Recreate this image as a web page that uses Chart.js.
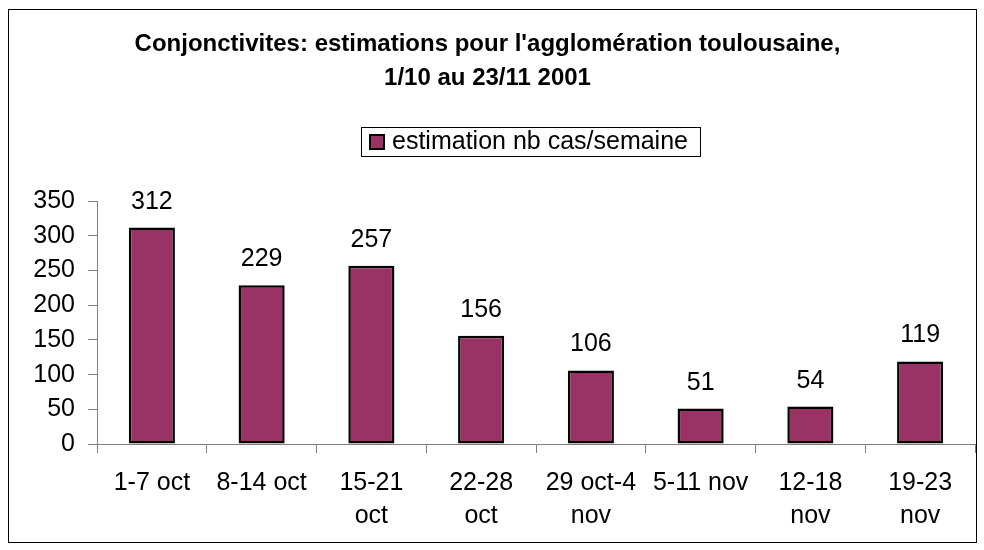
<!DOCTYPE html>
<html lang="fr">
<head>
    <meta charset="UTF-8">
    <title>Conjonctivites - agglomération toulousaine</title>
    <script src="https://cdn.jsdelivr.net/npm/chart.js"></script>
    <style>
        html, body {
            margin: 0;
            padding: 0;
            background: #fff;
        }
        .chart-wrap {
            width: 984px;
            height: 550px;
        }
    </style>
</head>
<body>
    <div class="chart-wrap">
        <canvas id="conjChart" width="984" height="550"></canvas>
    </div>

    <script>
        // data
        const weeks = ['1-7 oct', '8-14 oct', ['15-21', 'oct'], ['22-28', 'oct'], ['29 oct-4', 'nov'], '5-11 nov', ['12-18', 'nov'], ['19-23', 'nov']];
        const casesPerWeek = [312, 229, 257, 156, 106, 51, 54, 119];
        const seriesLabel = 'estimation nb cas/semaine';
        const titleLines = ["Conjonctivites: estimations pour l'agglomération toulousaine,", '1/10 au 23/11 2001'];

        const FONT = '"Liberation Sans", Arial, sans-serif';
        const BAR_COLOR = '#993366';
        const AXIS_GREY = '#808080';

        // outer frame around the whole chart
        const frame = {
            id: 'frame',
            beforeDraw(chart) {
                const ctx = chart.ctx;
                ctx.save();
                ctx.fillStyle = '#fff';
                ctx.fillRect(0, 0, chart.width, chart.height);
                ctx.strokeStyle = '#000';
                ctx.lineWidth = 1;
                ctx.strokeRect(8.5, 9.5, 968, 533);
                ctx.restore();
            }
        };

        // boxed legend like the excel one
        const boxedLegend = {
            id: 'boxedLegend',
            afterDraw(chart) {
                const ctx = chart.ctx;
                const ds = chart.data.datasets[0];
                ctx.save();
                ctx.font = '25px ' + FONT;
                const tw = ctx.measureText(ds.label).width;
                const x = 361, y = 127, h = 29;
                const w = 8 + 16 + 7 + tw + 12;
                ctx.strokeStyle = '#000';
                ctx.lineWidth = 1;
                ctx.strokeRect(x + 0.5, y + 0.5, w, h);
                ctx.fillStyle = ds.backgroundColor;
                ctx.fillRect(x + 8, y + 7, 16, 16);
                ctx.lineWidth = 2;
                ctx.strokeRect(x + 9, y + 8, 14, 14);
                ctx.fillStyle = '#000';
                ctx.textBaseline = 'middle';
                ctx.textAlign = 'left';
                ctx.fillText(ds.label, x + 31, y + h / 2 + 1);
                ctx.restore();
            }
        };

        // value above each bar
        const barValues = {
            id: 'barValues',
            afterDatasetsDraw(chart) {
                const ctx = chart.ctx;
                const meta = chart.getDatasetMeta(0);
                ctx.save();
                ctx.font = '25px ' + FONT;
                ctx.fillStyle = '#000';
                ctx.textAlign = 'center';
                ctx.textBaseline = 'alphabetic';
                meta.data.forEach((bar, i) => {
                    ctx.fillText(String(chart.data.datasets[0].data[i]), bar.x, bar.y - 19);
                });
                ctx.restore();
            }
        };

        const ctx = document.getElementById('conjChart').getContext('2d');
        new Chart(ctx, {
            type: 'bar',
            data: {
                labels: weeks,
                datasets: [{
                    label: seriesLabel,
                    data: casesPerWeek,
                    backgroundColor: BAR_COLOR,
                    borderColor: '#000',
                    borderWidth: 2.5,
                    borderSkipped: false,
                    categoryPercentage: 1,
                    barPercentage: 0.42
                }]
            },
            options: {
                responsive: false,
                animation: false,
                layout: {
                    padding: { top: 10, left: 0, right: 9, bottom: 10 }
                },
                plugins: {
                    legend: { display: false },
                    tooltip: { enabled: false },
                    title: {
                        display: true,
                        text: titleLines,
                        color: '#000',
                        font: { family: FONT, size: 24, weight: 'bold', lineHeight: 1.4 },
                        padding: { top: 18, bottom: 106 }
                    }
                },
                scales: {
                    x: {
                        afterFit(scale) { scale.height = 96; },
                        grid: {
                            display: true,
                            drawOnChartArea: false,
                            drawTicks: true,
                            tickLength: 9,
                            color: AXIS_GREY,
                            offset: true
                        },
                        border: { color: AXIS_GREY, width: 1 },
                        ticks: {
                            color: '#000',
                            font: { family: FONT, size: 25, lineHeight: 1.33 },
                            padding: 13,
                            maxRotation: 0,
                            autoSkip: false
                        }
                    },
                    y: {
                        min: 0,
                        max: 350,
                        afterFit(scale) { scale.width = 97; },
                        grid: {
                            display: true,
                            drawOnChartArea: false,
                            drawTicks: true,
                            tickLength: 9,
                            color: AXIS_GREY
                        },
                        border: { color: AXIS_GREY, width: 1 },
                        ticks: {
                            stepSize: 50,
                            color: '#000',
                            font: { family: FONT, size: 25 },
                            padding: 13
                        }
                    }
                }
            },
            plugins: [frame, boxedLegend, barValues]
        });
    </script>
</body>
</html>
